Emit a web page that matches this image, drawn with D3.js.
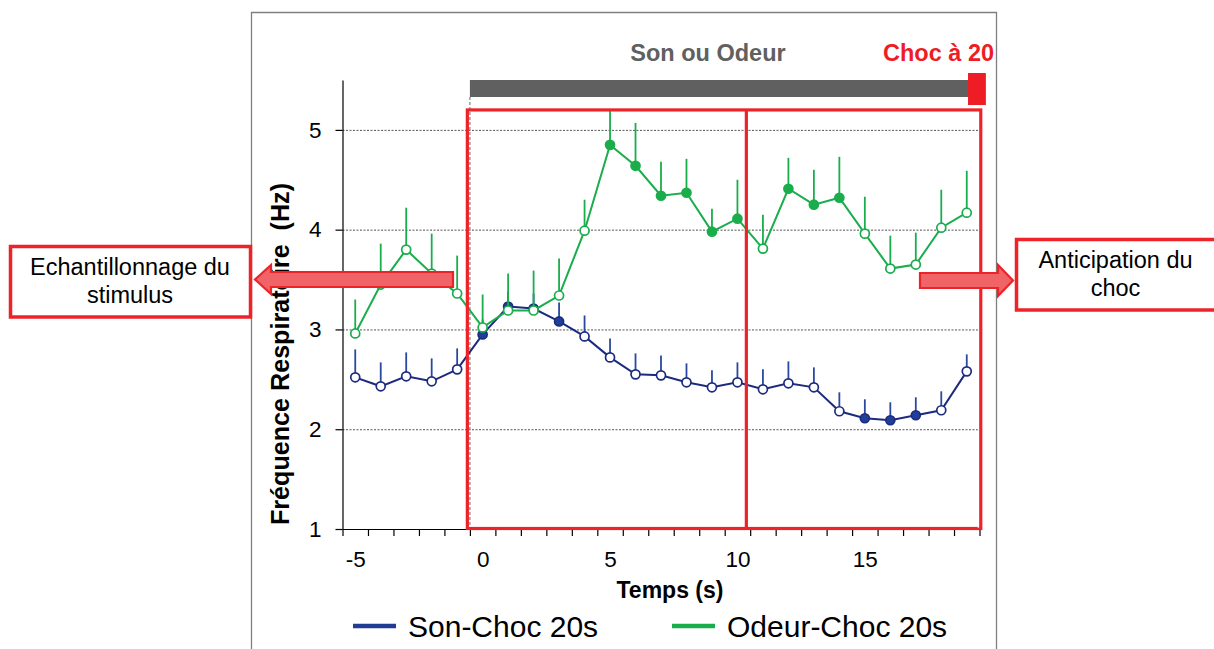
<!DOCTYPE html>
<html lang="fr">
<head>
<meta charset="utf-8">
<script src="https://cdn.jsdelivr.net/npm/d3@7"></script>
<style>
  html, body { margin: 0; padding: 0; background: #fff; }
  svg { display: block; font-family: "Liberation Sans", Arial, sans-serif; }
</style>
</head>
<body>
<svg id="chart" width="1214" height="649"></svg>
<script>
// Temps (s) relative to stimulus onset
const temps = [-5,-4,-3,-2,-1,0,1,2,3,4,5,6,7,8,9,10,11,12,13,14,15,16,17,18,19];

// Son-Choc 20s : mean respiratory frequency (Hz), SEM, significance flag
const sonMoy = [2.52,2.43,2.53,2.48,2.60,2.95,3.23,3.21,3.08,2.93,2.72,2.55,2.54,2.47,2.42,2.47,2.40,2.46,2.42,2.18,2.11,2.09,2.14,2.19,2.58];
const sonErr = [0.28,0.24,0.24,0.23,0.21,0.15,0.15,0.15,0.19,0.21,0.19,0.21,0.20,0.19,0.17,0.20,0.20,0.22,0.20,0.19,0.19,0.18,0.18,0.19,0.17];
const sonSig = [0,0,0,0,0,1,1,1,1,0,0,0,0,0,0,0,0,0,0,0,1,1,1,0,0];

// Odeur-Choc 20s
const odeurMoy = [2.96,3.45,3.80,3.56,3.36,3.02,3.19,3.19,3.34,3.99,4.85,4.64,4.34,4.37,3.98,4.11,3.81,4.41,4.25,4.32,3.96,3.61,3.65,4.02,4.17];
const odeurErr = [0.34,0.41,0.42,0.40,0.38,0.33,0.37,0.40,0.37,0.31,0.35,0.43,0.34,0.34,0.23,0.39,0.34,0.31,0.35,0.41,0.37,0.33,0.32,0.38,0.42];
const odeurSig = [0,0,0,0,0,0,0,0,0,0,1,1,1,1,1,1,0,1,1,1,0,0,0,0,0];

// Axis ticks and labels
const yTicks = [1,2,3,4,5];
const xLabelTicks = [-5,0,5,10,15];
const xBoundTicks = d3.range(-5.5, 20, 1);

// Series definitions
const seriesNames = ["Son-Choc 20s", "Odeur-Choc 20s"];
const seriesColors = ["#1c2b7f", "#1aad4c"];
const seriesFill = ["#1f3f99", "#1aad4c"];
const seriesErrColor = ["#2a48a0", "#1aad4c"];

const svg = d3.select("#chart");

const x = d3.scaleLinear().domain([-5.5, 19.5]).range([342.5, 979.5]);
const y = d3.scaleLinear().domain([1, 5.5]).range([529, 80]);

// Outer frame
svg.append("path")
  .attr("d", "M251.5,660 V12.5 H996.5 V660")
  .attr("fill", "none").attr("stroke", "#7f7f7f").attr("stroke-width", 1.3);

// Clip for text running past the frame
svg.append("clipPath").attr("id", "frameClip")
  .append("rect").attr("x", 252).attr("y", 0).attr("width", 743).attr("height", 649);

// Gridlines
svg.append("g").selectAll("line").data(yTicks.filter(d => d > 1)).join("line")
  .attr("x1", x(-5.5)).attr("x2", x(19.5))
  .attr("y1", d => y(d) + 0.5).attr("y2", d => y(d) + 0.5)
  .attr("stroke", "#555").attr("stroke-width", 1).attr("stroke-dasharray", "2,1.5");

// Stimulus onset marker
svg.append("line")
  .attr("x1", x(-0.5)).attr("x2", x(-0.5))
  .attr("y1", 97).attr("y2", y(1))
  .attr("stroke", "#808080").attr("stroke-width", 1.2).attr("stroke-dasharray", "3,2");

// Stimulus bar and shock marker
svg.append("rect")
  .attr("x", x(-0.5)).attr("y", 80).attr("width", x(19.1) - x(-0.5)).attr("height", 17)
  .attr("fill", "#606060");
svg.append("rect")
  .attr("x", x(19.05)).attr("y", 73).attr("width", x(19.75) - x(19.05)).attr("height", 32)
  .attr("fill", "#ee1c25");

svg.append("text")
  .attr("x", 708).attr("y", 61).attr("text-anchor", "middle")
  .attr("font-size", 23.5).attr("font-weight", "bold").attr("fill", "#606060")
  .text("Son ou Odeur");
svg.append("text")
  .attr("clip-path", "url(#frameClip)")
  .attr("x", 883).attr("y", 61)
  .attr("font-size", 23.5).attr("font-weight", "bold").attr("fill", "#ee1c25")
  .text("Choc à 20s");

// Axes
const fmt = d => String(d);
const yAxis = svg.append("g").attr("transform", `translate(${x(-5.5)},0)`)
  .call(d3.axisLeft(y).tickValues(yTicks).tickSize(7).tickSizeOuter(0).tickPadding(14).tickFormat(fmt));
yAxis.select(".domain").attr("stroke", "#000").attr("stroke-width", 1.2);
yAxis.selectAll(".tick line").attr("stroke", "#000").attr("stroke-width", 1.2);
yAxis.selectAll(".tick text").attr("font-size", 22.5).attr("fill", "#000")
  .attr("font-family", "Liberation Sans, Arial, sans-serif");

const xAxis = svg.append("g").attr("transform", `translate(0,${y(1)})`)
  .call(d3.axisBottom(x).tickValues(xBoundTicks).tickSize(7).tickSizeOuter(0).tickFormat(""));
xAxis.select(".domain").attr("stroke", "#000").attr("stroke-width", 1.2);
xAxis.selectAll(".tick line").attr("stroke", "#000").attr("stroke-width", 1.2);

const xLabels = svg.append("g").attr("transform", `translate(0,${y(1)})`)
  .call(d3.axisBottom(x).tickValues(xLabelTicks).tickSize(0).tickPadding(0).tickFormat(fmt));
xLabels.select(".domain").remove();
xLabels.selectAll(".tick text").attr("font-size", 22.5).attr("fill", "#000")
  .attr("dy", null).attr("y", 38)
  .attr("font-family", "Liberation Sans, Arial, sans-serif");

// Axis titles
svg.append("text")
  .attr("x", 670).attr("y", 598).attr("text-anchor", "middle")
  .attr("font-size", 23).attr("font-weight", "bold").attr("fill", "#000")
  .text("Temps (s)");
svg.append("text")
  .attr("transform", "translate(289,354) rotate(-90)")
  .attr("text-anchor", "middle")
  .attr("font-size", 25.5).attr("font-weight", "bold").attr("fill", "#000")
  .attr("textLength", 342).attr("lengthAdjust", "spacingAndGlyphs")
  .text("Fréquence Respiratoire\u00a0 (Hz)");

// Series drawing
function drawSeries(moy, err, sig, i) {
  const pts = temps.map((t, k) => ({ t, v: moy[k], e: err[k], s: sig[k] }));
  const g = svg.append("g");
  g.selectAll("line.err").data(pts).join("line").attr("class", "err")
    .attr("x1", d => x(d.t)).attr("x2", d => x(d.t))
    .attr("y1", d => y(d.v)).attr("y2", d => y(d.v + d.e))
    .attr("stroke", seriesErrColor[i]).attr("stroke-width", 1.8);
  g.append("path").datum(pts)
    .attr("d", d3.line().x(d => x(d.t)).y(d => y(d.v)))
    .attr("fill", "none").attr("stroke", seriesColors[i]).attr("stroke-width", 2);
  g.selectAll("circle").data(pts).join("circle")
    .attr("cx", d => x(d.t)).attr("cy", d => y(d.v)).attr("r", 4.5)
    .attr("fill", d => d.s ? seriesFill[i] : "#fff")
    .attr("stroke", seriesColors[i]).attr("stroke-width", 1.7);
}
drawSeries(sonMoy, sonErr, sonSig, 0);
drawSeries(odeurMoy, odeurErr, odeurSig, 1);

// Analysis windows
const red = "#ec2329";
svg.append("rect")
  .attr("x", x(-0.6)).attr("y", y(5.2))
  .attr("width", x(19.55) - x(-0.6)).attr("height", y(1) - y(5.2) - 0.5)
  .attr("fill", "none").attr("stroke", red).attr("stroke-width", 3.2);
svg.append("line")
  .attr("x1", x(10.35)).attr("x2", x(10.35)).attr("y1", y(5.2)).attr("y2", y(1))
  .attr("stroke", red).attr("stroke-width", 3.2);
svg.append("line")
  .attr("x1", x(19.45)).attr("x2", x(19.45)).attr("y1", y(5.2) + 2).attr("y2", y(1) - 1)
  .attr("stroke", "#fff").attr("stroke-width", 1).attr("stroke-dasharray", "3,2");

// Arrows
function arrow(pts) {
  svg.append("path")
    .attr("d", d3.line()(pts) + "Z")
    .attr("fill", "#f06468").attr("stroke", red).attr("stroke-width", 2.2)
    .attr("stroke-linejoin", "miter");
}
arrow([[453,272],[271,272],[271,265],[255,279.5],[271,294],[271,287],[453,287]]);
arrow([[920,273],[998,273],[998,265],[1013,280.5],[998,296],[998,288],[920,288]]);

// Callout boxes
function callout(bx, by, bw, bh, cx, lines, baseline, lh) {
  svg.append("rect").attr("x", bx).attr("y", by).attr("width", bw).attr("height", bh)
    .attr("fill", "#fff").attr("stroke", red).attr("stroke-width", 3.5);
  const t = svg.append("text").attr("text-anchor", "middle")
    .attr("font-size", 23.5).attr("fill", "#000");
  lines.forEach((s, k) => t.append("tspan").attr("x", cx).attr("y", baseline + k * lh).text(s));
}
callout(10.5, 246.5, 240, 70.5, 130, ["Echantillonnage du", "stimulus"], 275, 28);
callout(1016.5, 239.5, 210, 70.5, 1115.5, ["Anticipation du", "choc"], 268, 28);

// Legend
const legendX = [353, 672];
seriesNames.forEach((name, i) => {
  svg.append("line")
    .attr("x1", legendX[i]).attr("x2", legendX[i] + 43)
    .attr("y1", 626).attr("y2", 626)
    .attr("stroke", i === 0 ? "#203c93" : seriesColors[i]).attr("stroke-width", 4.5);
  svg.append("text")
    .attr("x", legendX[i] + 55).attr("y", 637)
    .attr("font-size", 30).attr("fill", "#000")
    .text(name);
});
</script>
</body>
</html>
